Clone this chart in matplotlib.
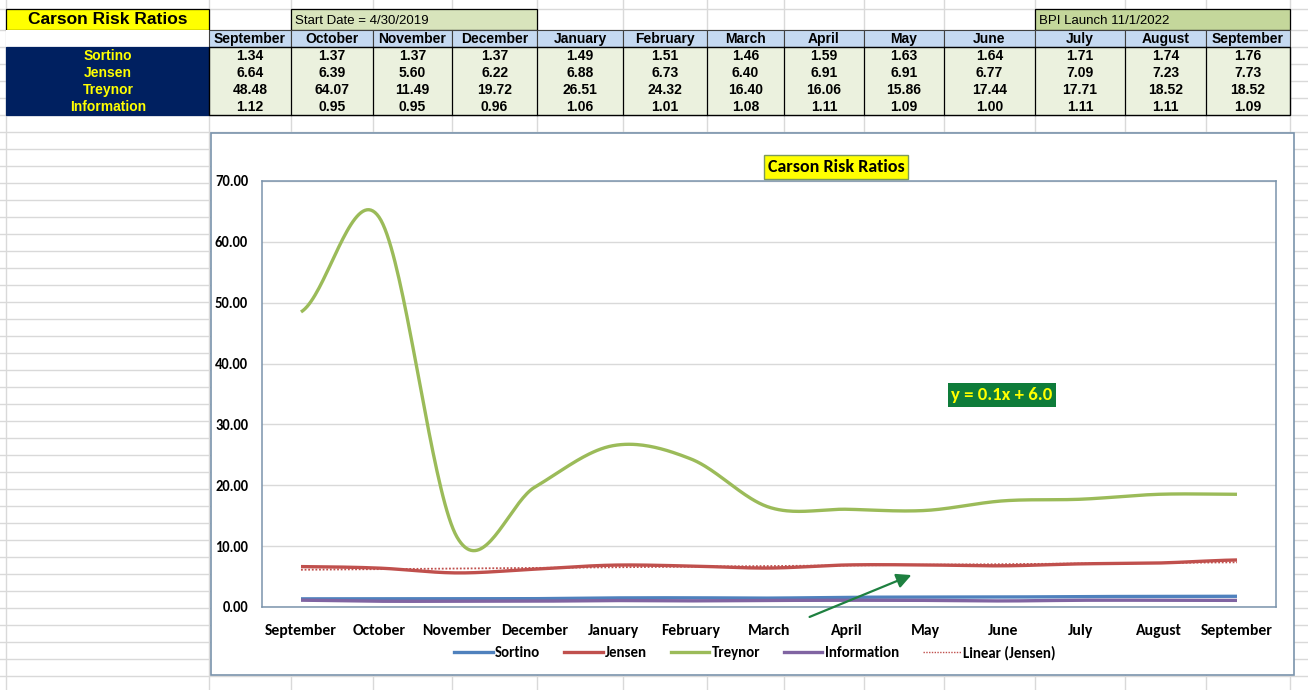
import numpy as np
import matplotlib
matplotlib.use("Agg")
import matplotlib.pyplot as plt
from matplotlib.patches import Rectangle, FancyArrowPatch
from matplotlib.lines import Line2D

months = ["September", "October", "November", "December", "January", "February", "March",
          "April", "May", "June", "July", "August", "September"]
sortino = [1.34, 1.37, 1.37, 1.37, 1.49, 1.51, 1.46, 1.59, 1.63, 1.64, 1.71, 1.74, 1.76]
jensen = [6.64, 6.39, 5.60, 6.22, 6.88, 6.73, 6.40, 6.91, 6.91, 6.77, 7.09, 7.23, 7.73]
treynor = [48.48, 64.07, 11.49, 19.72, 26.51, 24.32, 16.40, 16.06, 15.86, 17.44, 17.71, 18.52, 18.52]
information = [1.12, 0.95, 0.95, 0.96, 1.06, 1.01, 1.08, 1.11, 1.09, 1.00, 1.11, 1.11, 1.09]
row_names = ["Sortino", "Jensen", "Treynor", "Information"]

W, H = 1308, 690
TABLE_FONT = ["Liberation Sans Narrow", "Liberation Sans", "DejaVu Sans"]
CHART_FONT = ["Carlito", "Lato", "DejaVu Sans"]

fig = plt.figure(figsize=(W / 100, H / 100), dpi=100)
bg = fig.add_axes([0, 0, 1, 1], zorder=0)
bg.set_xlim(0, W)
bg.set_ylim(H, 0)
bg.axis("off")


def fx(x):
    return x / W


def fy(y):
    return 1 - y / H


# spreadsheet grid
cols = [6, 209, 291, 373, 452, 537, 623, 707, 784, 864, 944, 1035, 1125, 1206, 1290]
rows = [9] + list(range(30, H, 17))
for c in cols:
    bg.plot([c, c], [0, H], color="#D9D9D9", lw=1, zorder=0)
for r in rows:
    bg.plot([0, W], [r, r], color="#D9D9D9", lw=1, zorder=0)


def cell(x0, y0, x1, y1, fc, ec="black", lw=0.9, z=1):
    bg.add_patch(Rectangle((x0, y0), x1 - x0, y1 - y0, facecolor=fc, edgecolor=ec, lw=lw, zorder=z))


# top row boxes
cell(6, 9, 209, 30, "#FFFF00")
bg.text(108, 20, "Carson Risk Ratios", ha="center", va="center", fontsize=12.5,
        fontweight="bold", family=TABLE_FONT, zorder=3)
cell(291, 9, 537, 30, "#D8E4BC")
bg.text(295, 20.5, "Start Date = 4/30/2019", ha="left", va="center", fontsize=9.5,
        family=TABLE_FONT, zorder=3)
cell(1035, 9, 1290, 30, "#C4D79B")
bg.text(1039, 20.5, "BPI Launch 11/1/2022", ha="left", va="center", fontsize=9.5,
        family=TABLE_FONT, zorder=3)

# header row
cell(6, 30, 209, 47, "white", ec="none")
for i, m in enumerate(months):
    x0, x1 = cols[i + 1], cols[i + 2]
    cell(x0, 30, x1, 47, "#C5D9F1", ec="#404040", lw=0.8)
    bg.text((x0 + x1) / 2, 39, m, ha="center", va="center", fontsize=10,
            fontweight="bold", family=TABLE_FONT, zorder=3)

# row labels and values
cell(6, 47, 209, 115, "#002060", ec="#002060")
cell(209, 47, 1290, 115, "#EBF1DE", ec="black", lw=1)
for c in cols[2:-1]:
    bg.plot([c, c], [47, 115], color="black", lw=0.9, zorder=2)
table_rows = [sortino, jensen, treynor, information]
for j, (name, vals) in enumerate(zip(row_names, table_rows)):
    yc = 56 + 17 * j
    bg.text(108, yc, name, ha="center", va="center", fontsize=10, fontweight="bold",
            color="#FFFF00", family=TABLE_FONT, zorder=3)
    for i, v in enumerate(vals):
        x0, x1 = cols[i + 1], cols[i + 2]
        bg.text((x0 + x1) / 2, yc, f"{v:.2f}", ha="center", va="center", fontsize=10,
                fontweight="bold", family=TABLE_FONT, zorder=3)

# chart area
cell(211, 133, 1294, 675, "white", ec="#7A93AC", lw=1.2, z=4)


def smooth(vals, n=40):
    p = np.asarray(vals, dtype=float)
    ext = np.concatenate([[p[0]], p, [p[-1]]])
    xs, ys = [], []
    for i in range(len(p) - 1):
        p0, p1, p2, p3 = ext[i], ext[i + 1], ext[i + 2], ext[i + 3]
        c1 = p1 + (p2 - p0) / 6
        c2 = p2 - (p3 - p1) / 6
        t = np.linspace(0, 1, n)
        y = (1 - t) ** 3 * p1 + 3 * (1 - t) ** 2 * t * c1 + 3 * (1 - t) * t ** 2 * c2 + t ** 3 * p2
        xs.append(i + t)
        ys.append(y)
    return np.concatenate(xs), np.concatenate(ys)


ax = fig.add_axes([fx(262), fy(607), fx(1276 - 262), (607 - 181) / H], zorder=5)
ax.set_facecolor("white")
x = np.arange(len(months))

series = [("Sortino", sortino, "#4F81BD"), ("Jensen", jensen, "#C0504D"),
          ("Treynor", treynor, "#9BBB59"), ("Information", information, "#8064A2")]
handles = []
for name, vals, col in series:
    sx, sy = smooth(vals)
    ax.plot(sx, sy, color=col, lw=2.4, solid_capstyle="butt", zorder=3)
    handles.append(Line2D([], [], color=col, lw=2.4, label=name))

k, b = np.polyfit(x + 1, jensen, 1)
ax.plot(x, k * (x + 1) + b, color="#C0504D", lw=1.3, ls=(0, (1, 1)), zorder=4)
handles.append(Line2D([], [], color="#C0504D", lw=1.0, ls=(0, (1, 1)), label="Linear (Jensen)"))

ax.set_xlim(-0.5, len(months) - 0.5)
ax.set_ylim(0, 70)
ax.set_yticks(np.arange(0, 71, 10))
ax.set_yticklabels([f"{v:.2f}" for v in np.arange(0, 71, 10)], fontsize=10.5,
                   fontweight="bold", family=CHART_FONT)
ax.set_xticks(x)
ax.set_xticklabels(months, fontsize=11.3, fontweight="bold", family=CHART_FONT)
ax.tick_params(length=0)
ax.tick_params(axis="x", pad=12)
ax.tick_params(axis="y", pad=10)
ax.grid(axis="y", color="#D9D9D9", lw=1)
ax.set_axisbelow(True)
for s in ax.spines.values():
    s.set_color("#7A93AC")
    s.set_linewidth(1.1)

ax.legend(handles=handles, loc="center", bbox_to_anchor=(fx(755), fy(653)),
          bbox_transform=fig.transFigure, ncol=5, frameon=False, handlelength=2.6,
          handletextpad=0.15, columnspacing=1.6,
          prop={"family": CHART_FONT, "weight": "bold", "size": 10.7})

# chart title
fig.text(fx(836), fy(167), "Carson Risk Ratios", ha="center", va="center", fontsize=13,
         fontweight="bold", family=CHART_FONT, zorder=10,
         bbox=dict(boxstyle="square,pad=0.2", facecolor="#FFFF00", edgecolor="#7C9A5C", lw=1))

# trendline equation
fig.text(fx(1002), fy(395), "y = 0.1x + 6.0", ha="center", va="center", fontsize=13.5,
         fontweight="bold", color="#FFFF00", family=CHART_FONT, zorder=10,
         bbox=dict(boxstyle="square,pad=0.2", facecolor="#0E7C3A", edgecolor="none"))

fig.add_artist(FancyArrowPatch((fx(807), fy(618)), (fx(914), fy(574)),
                               transform=fig.transFigure, arrowstyle="-|>",
                               mutation_scale=22, color="#1E8040", lw=1.6, zorder=10))

fig.savefig("out.png", dpi=100)
